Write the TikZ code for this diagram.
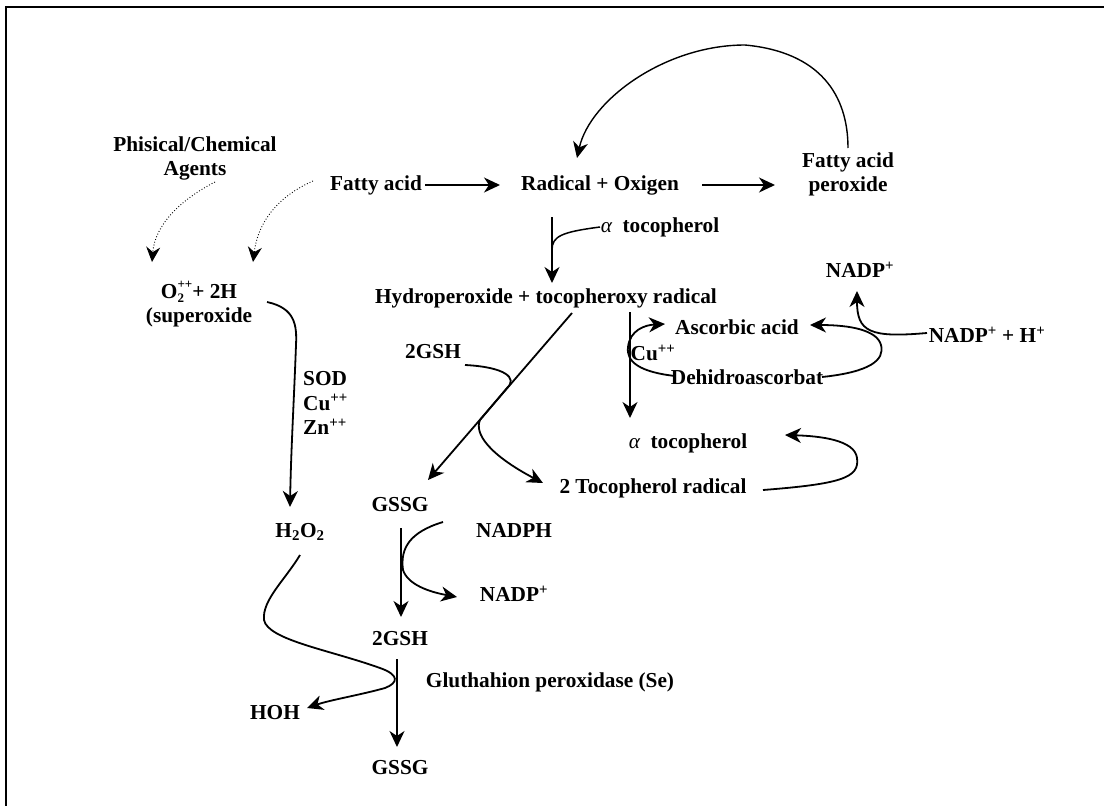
\documentclass[tikz,border=0pt]{standalone}
\usepackage{fontspec}
\setmainfont{Liberation Serif}
\usetikzlibrary{arrows.meta,calc}
\newcommand{\al}{{\mdseries\itshape α}}
\newcommand{\supsm}[1]{\raisebox{1.0ex}{\fontsize{13}{13}\selectfont #1}}
\newcommand{\subsm}[1]{\raisebox{-0.45ex}{\fontsize{13}{13}\selectfont #1}}
\begin{document}
\begin{tikzpicture}[x=1pt,y=-1pt,
  lbl/.style={font=\fontsize{21.3}{24}\selectfont\bfseries, inner sep=0pt, align=center},
  lbll/.style={font=\fontsize{21.3}{24.5}\selectfont\bfseries, inner sep=0pt, align=left},
  arr/.style={line width=1.8pt, -{Stealth[length=16pt,width=15pt,inset=5pt]}},
  thinarr/.style={line width=1.4pt, -{Stealth[length=16pt,width=15pt,inset=5pt]}},
  ln/.style={line width=1.5pt},
  dot/.style={line width=0.9pt, dotted, -{Stealth[length=15pt,width=14pt,inset=5pt,line width=0.9pt]}}]
\useasboundingbox (0,0) rectangle (1104,806);
\fill[white] (0,0) rectangle (1104,806);
\draw[line width=2pt] (6,806) -- (6,7) -- (1104,7);

% nodes
\node[lbl] (phys) at (195,158) {Phisical/Chemical\\Agents};
\node[lbl] (fa) at (376,185) {Fatty acid};
\node[lbl] (ro) at (600,185) {Radical + Oxigen};
\node[lbl] (fap) at (848,174) {Fatty acid\\peroxide};
\node[lbl] (o2) at (199,304) {O\rlap{\subsm{2}}\supsm{++}+ 2H\\(superoxide};
\node[lbl] (atoc1) at (660,227) {\al\ \ tocopherol};
\node[lbl] (hyd) at (546,298) {Hydroperoxide + tocopheroxy radical};
\node[lbl] (nadpTop) at (860,270) {NADP\textsuperscript{+}};
\node[lbl] (asc) at (737,327) {Ascorbic acid};
\node[lbl] (nadpH) at (987,335) {NADP\textsuperscript{+} + H\textsuperscript{+}};
\node[lbl] (cu) at (653,353) {Cu\textsuperscript{++}};
\node[lbl] (dehid) at (747,377) {Dehidroascorbat};
\node[lbl] (gsh1) at (433,352) {2GSH};
\node[lbll, anchor=west] (sod) at (303,403) {SOD\\Cu\textsuperscript{++}\\Zn\textsuperscript{++}};
\node[lbl] (atoc2) at (688,443) {\al\ \ tocopherol};
\node[lbl] (toc) at (653,488) {2 Tocopherol radical};
\node[lbl] (gssg1) at (400,505) {GSSG};
\node[lbl] (h2o2) at (300,532) {H\textsubscript{2}O\textsubscript{2}};
\node[lbl] (nadph) at (514,530) {NADPH};
\node[lbl] (nadp2) at (514,594) {NADP\textsuperscript{+}};
\node[lbl] (gsh2) at (400,639) {2GSH};
\node[lbl] (glut) at (550,682) {Gluthahion peroxidase (Se)};
\node[lbl] (hoh) at (275,713) {HOH};
\node[lbl] (gssg2) at (400,768) {GSSG};

% connectors
\draw[arr] ($(fa)+(49,0)$) -- ($(ro)+(-100,0)$);
\draw[arr] ($(ro)+(102,0)$) -- ($(fap)+(-73,11)$);
\draw[thinarr] ($(fap)+(0,-26)$) .. controls (848,95) and (820,52) .. (745,45)
   .. controls (665,45) and (590,100) .. ($(ro)+(-23,-27)$);
\draw[dot] ($(phys)+(20,24)$) .. controls (180,200) and (155,225) .. ($(o2)+(-47,-42)$);
\draw[dot] ($(fa)+(-63,-4)$) .. controls (270,200) and (257,230) .. ($(o2)+(54,-42)$);
\draw[arr] ($(ro)+(-48,32)$) -- ($(hyd)+(6,-15)$);
\draw[ln] ($(atoc1)+(-60,0)$) .. controls (562,232) and (552,236) .. ($(ro)+(-48,65)$);
\draw[arr] ($(hyd)+(26,15)$) -- ($(gssg1)+(28,-25)$);
\draw[arr] ($(gsh1)+(32,13)$) .. controls (505,367) and (518,378) .. (507,388) -- (480,420)
   .. controls (474,434) and (490,455) .. ($(toc)+(-110,-5)$);
\draw[arr] ($(hyd)+(84,14)$) -- ($(atoc2)+(-58,-25)$);
\draw[arr] ($(dehid)+(-72,-1)$) .. controls (640,372) and (626,362) .. (628,347)
   .. controls (630,330) and (645,325) .. ($(asc)+(-72,-3)$);
\draw[arr] ($(dehid)+(75,0)$) .. controls (870,372) and (885,360) .. (881,345)
   .. controls (877,330) and (850,325) .. ($(asc)+(73,-2)$);
\draw[arr] ($(nadpH)+(-60,-2)$) .. controls (870,338) and (857,332) .. ($(nadpTop)+(-3,21)$);
\draw[arr] ($(toc)+(110,2)$) .. controls (840,484) and (860,478) .. (857,458)
   .. controls (855,440) and (820,436) .. ($(atoc2)+(97,-8)$);
\draw[arr] ($(o2)+(68,-2)$) .. controls (295,308) and (297,325) .. (296,345)
   .. controls (294,400) and (291,450) .. ($(h2o2)+(-10,-25)$);
\draw[arr] ($(nadph)+(-71,-8)$) .. controls (410,532) and (400,548) .. (403,570)
   .. controls (408,585) and (430,592) .. ($(nadp2)+(-57,3)$);
\draw[arr] ($(gssg1)+(1,23)$) -- ($(gsh2)+(1,-22)$);
\draw[arr] ($(gsh2)+(-3,20)$) -- ($(gssg2)+(-3,-21)$);
\draw[arr] ($(h2o2)+(0,23)$) .. controls (285,580) and (262,600) .. (264,620)
   .. controls (268,640) and (330,650) .. (380,668)
   .. controls (400,675) and (398,683) .. (385,688)
   .. controls (360,695) and (330,700) .. ($(hoh)+(32,-5)$);
\end{tikzpicture}
\end{document}
